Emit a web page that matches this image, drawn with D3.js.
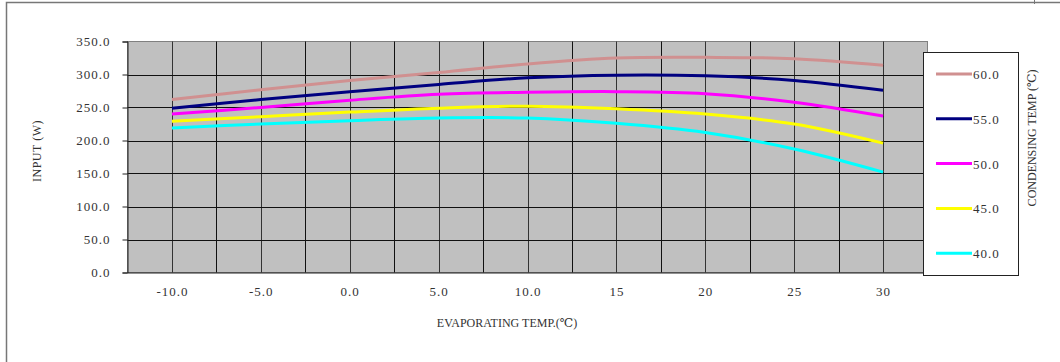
<!DOCTYPE html>
<html>
<head>
<meta charset="utf-8">
<script src="https://cdn.jsdelivr.net/npm/d3@7"></script>
<style>
  body { margin: 0; background: #fff; }
  svg text { font-family: "Liberation Serif", "DejaVu Serif", serif; fill: #333; }
</style>
</head>
<body>
<div id="chart"></div>
<script>
// evaporating temp (x) and input power per condensing temp
var evapTemps = [-10, -5, 0, 5, 10, 15, 20, 25, 30];
var xTickLabels = ["-10.0", "-5.0", "0.0", "5.0", "10.0", "15", "20", "25", "30"];
var yTicks = [0, 50, 100, 150, 200, 250, 300, 350];
var condTemps = ["60.0", "55.0", "50.0", "45.0", "40.0"];
var colors = ["#d09090", "#000080", "#ff00ff", "#ffff00", "#00ffff"];

var cond60 = [262, 277, 291, 303, 316, 325, 326, 324, 314];
var cond55 = [249, 262, 274, 285, 295, 299, 298, 291, 276];
var cond50 = [240, 250, 261, 270, 273, 274, 271, 258, 237];
var cond45 = [229, 236, 243, 249, 252, 248, 240, 225, 196];
var cond40 = [219, 225, 230, 234, 234, 226, 212, 187, 152];
var series = [cond60, cond55, cond50, cond45, cond40];

var width = 1060, height = 362;

var svg = d3.select("#chart").append("svg")
	.attr("width", width)
	.attr("height", height);

// outer frame
svg.append("path")
	.attr("d", "M6.5," + height + "V2.5H" + width)
	.attr("fill", "none")
	.attr("stroke", "#777")
	.attr("stroke-width", 1.5);
svg.append("line").attr("x1", 1034.5).attr("x2", 1034.5).attr("y1", 0).attr("y2", 4)
	.attr("stroke", "#777");

var x = d3.scaleLinear().domain([-12.5, 32.5]).range([127.5, 927.5]);
var y = d3.scaleLinear().domain([0, 350]).range([272.5, 41.5]);

// plot area
svg.append("rect")
	.attr("x", x(-12.5)).attr("y", y(350))
	.attr("width", x(32.5) - x(-12.5)).attr("height", y(0) - y(350))
	.attr("fill", "#c0c0c0")
	.attr("stroke", "#808080");

// gridlines
var vGrid = d3.range(-10, 32.5, 2.5);
svg.append("g").selectAll("line").data(vGrid).enter().append("line")
	.attr("x1", function(d) { return Math.round(x(d)) + 0.5; })
	.attr("x2", function(d) { return Math.round(x(d)) + 0.5; })
	.attr("y1", y(350)).attr("y2", y(0))
	.attr("stroke", function(d, i) { return i % 2 == 0 ? "#333" : "#111"; });
svg.append("g").selectAll("line").data(yTicks.slice(1, -1)).enter().append("line")
	.attr("x1", x(-12.5)).attr("x2", x(32.5))
	.attr("y1", function(d) { return Math.round(y(d)) + 0.5; })
	.attr("y2", function(d) { return Math.round(y(d)) + 0.5; })
	.attr("stroke", "#111");

// axes
var yAxis = d3.axisLeft(y).tickValues(yTicks).tickSize(5).tickPadding(12)
	.tickFormat(function(d) { return d3.format(".1f")(d); });
var gy = svg.append("g").attr("transform", "translate(" + x(-12.5) + ",0)").call(yAxis);
gy.select(".domain").attr("stroke", "#222");
gy.selectAll(".tick line").attr("stroke", "#222");
gy.selectAll("text").attr("font-size", 13).attr("fill", "#444")
	.attr("letter-spacing", 1)
	.attr("font-family", "Liberation Serif");

var xAxis = d3.axisBottom(x).tickValues(evapTemps).tickSize(0).tickPadding(14)
	.tickFormat(function(d, i) { return xTickLabels[i]; });
var gx = svg.append("g").attr("transform", "translate(0," + y(0) + ")").call(xAxis);
gx.select(".domain").attr("stroke", "#222");
gx.selectAll("text").attr("font-size", 13).attr("fill", "#444")
	.attr("letter-spacing", 1)
	.attr("font-family", "Liberation Serif");

// lines
var line = d3.line()
	.x(function(d, i) { return x(evapTemps[i]); })
	.y(function(d) { return y(d); })
	.curve(d3.curveCatmullRom);

svg.append("g").selectAll("path").data(series).enter().append("path")
	.attr("d", line)
	.attr("fill", "none")
	.attr("stroke", function(d, i) { return colors[i]; })
	.attr("stroke-width", 3);

// axis titles
svg.append("text")
	.attr("transform", "translate(41,151) rotate(-90)")
	.attr("text-anchor", "middle")
	.attr("font-size", 12)
	.attr("letter-spacing", 0.5)
	.text("INPUT (W)");
svg.append("text")
	.attr("x", 507).attr("y", 327)
	.attr("text-anchor", "middle")
	.attr("font-size", 12)
	.text("EVAPORATING TEMP.(℃)");

// legend
var legend = svg.append("g");
legend.append("rect")
	.attr("x", 923.5).attr("y", 52.5)
	.attr("width", 95).attr("height", 223)
	.attr("fill", "#fff")
	.attr("stroke", "#222");
var items = legend.selectAll("g.item").data(condTemps).enter().append("g")
	.attr("class", "item")
	.attr("transform", function(d, i) { return "translate(0," + (74 + i * 44.8) + ")"; });
items.append("line")
	.attr("x1", 936).attr("x2", 972)
	.attr("stroke", function(d, i) { return colors[i]; })
	.attr("stroke-width", 3);
items.append("text")
	.attr("x", 973).attr("y", 5)
	.attr("font-size", 13)
	.attr("fill", "#444")
	.attr("letter-spacing", 1)
	.text(function(d) { return d; });
svg.append("text")
	.attr("transform", "translate(1036,138) rotate(-90)")
	.attr("text-anchor", "middle")
	.attr("font-size", 12)
	.text("CONDENSING TEMP (℃)");
</script>
</body>
</html>
